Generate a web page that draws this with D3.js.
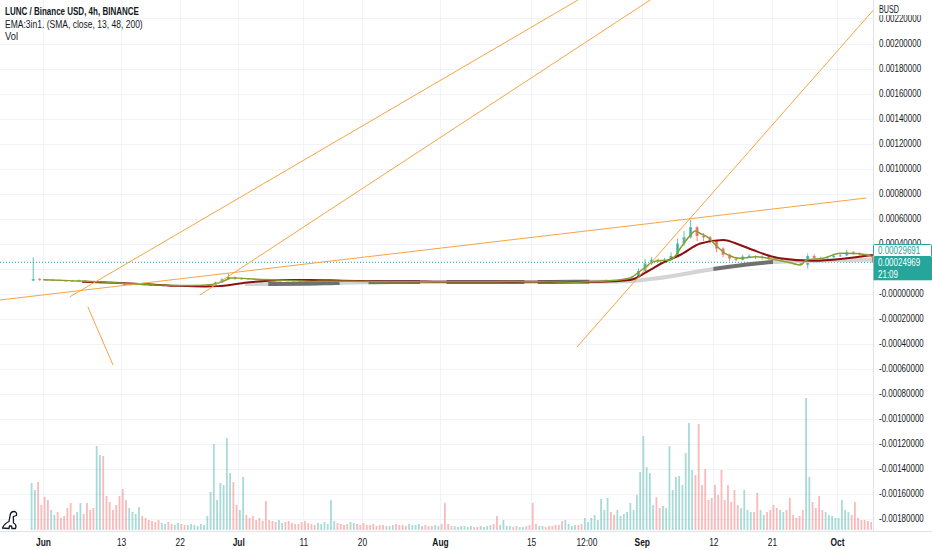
<!DOCTYPE html>
<html><head><meta charset="utf-8">
<script src="https://cdn.jsdelivr.net/npm/d3@7/dist/d3.min.js"></script>
<style>
html,body{margin:0;padding:0;background:#fff;}
svg{display:block;font-family:"Liberation Sans","DejaVu Sans",Arial,sans-serif;}
</style></head><body>
<svg id="c" width="932" height="550"></svg>
<script>
// ---------------- DATA ----------------
// Daily candles, first = 2022-05-30, prices in units of 1e-5 BUSD; open = previous close
const firstCandleDate = "2022-05-30";
const firstOpenE5 = 10.4;
const closeE5 = [11.5,11.2,
 10.8,10.9,10.4,10.3,10.0,10.4,9.6,9.3,9.4,9.0, 8.5,7.9,7.1,7.4,7.5,6.9,6.8,6.3,6.6,6.4, 6.5,6.1,6.3,6.6,6.7,7.1,8.8,11.2,13.2,11.8,
 12.1,11.6,11.2,10.9,10.6,10.4,10.5,10.4,10.2,9.9, 9.6,9.4,9.5,9.7,9.9,9.8,9.6,9.9,9.8,9.6, 9.5,9.4,9.3,9.4,9.2,9.1,9.4,9.6,9.5,9.4,9.5,
 9.3,9.2,9.3,9.4,9.5,9.4,9.5,9.7,9.4,9.6, 9.7,9.6,9.7,9.5,9.3,9.4,9.3,9.2,8.9,9.0, 9.2,9.1,9.3,9.6,10.2,10.6,10.4,10.9,11.5,13.0,18.0,
 24,27,26.5,27,30,40,45,53,46,45, 42,36,31,28,27,29.5,30,29,29.5,28, 26.5,27.5,26,24.5,23,30,28.5,28,29,30,
 30.5,33,32,31.5,30,25];
const highE5 = [29,12.5,
 11.6,11.3,11.2,10.8,10.9,11.2,10.6,9.9,10.3,9.7, 9.3,8.7,8.1,7.6,7.9,7.6,7.1,6.9,6.8,6.8, 6.9,6.6,6.5,6.8,6.9,7.4,9.5,12.5,16.4,13.8,
 12.8,12.4,11.9,11.6,11.8,10.9,10.8,10.9,10.6,10.3, 10.0,9.8,9.8,10.0,10.6,10.2,10.0,10.3,10.1,10.0, 9.8,9.7,9.6,9.6,9.5,9.3,9.6,9.8,9.8,9.7,9.7,
 9.9,9.5,9.5,9.6,9.7,9.6,9.7,10.0,9.9,9.9, 9.9,9.8,9.9,9.8,9.8,9.6,9.5,9.4,9.3,9.2, 9.4,9.3,9.6,9.9,10.6,11.2,10.9,11.3,12.0,13.8,20.0,
 27.5,29,28,28.5,33,44,50,59,54,48.5, 46,42.5,37,32,29,31,31.5,30.5,30.5,30, 28.5,28.5,28,26.5,25,32,31.5,29.5,30,31,
 31.5,35,34,33,32,30.5];
const lowE5 = [9.8,10.2,
 10.3,10.2,10.1,10.0,9.7,9.8,9.3,9.0,8.8,8.7, 8.3,7.6,6.6,6.7,6.9,6.6,6.5,6.0,6.1,6.2, 6.2,6.0,6.0,6.2,6.3,6.5,7.0,8.6,11.0,11.0,
 11.2,11.3,10.9,10.6,10.4,10.1,10.1,10.0,9.9,9.6, 9.3,9.1,9.0,9.3,9.5,9.5,9.4,9.5,9.5,9.4, 9.2,9.2,9.1,9.2,8.9,8.8,9.0,9.3,9.3,9.2,9.3,
 9.0,8.9,9.1,9.2,9.3,9.3,9.3,9.4,9.2,9.2, 9.4,9.4,9.5,9.3,9.0,9.2,9.1,9.0,8.6,8.7, 8.9,8.8,9.0,9.2,9.5,10.0,10.0,10.3,10.7,11.3,12.8,
 17.5,23,25,25.5,26.5,29.5,38,44,42,42, 40,33,29,26,25.5,26.5,28.5,27.5,27,27, 25.5,26,25.5,24,22.5,20,27.5,26.5,27.5,28.5,
 29.5,30,31,30.5,29.5,24.5];

// Volume, half-day bins starting 2022-05-30 00:00 (AM, PM per day)
const volume = [47,40, 48,25,
 33,30, 20,15, 18,12, 14,22, 27,15, 18,27, 16,27, 20,22, 84,75, 74,34,
 28,20, 25,34, 41,30, 22,18, 16,23, 14,12, 10,9, 8,10, 7,6, 8,6,
 5,7, 6,5, 5,6, 5,4, 6,5, 14,38, 86,30, 47,45, 92,57, 48,25,
 20,53, 15,12, 14,10, 12,9, 29,10, 9,8, 10,7, 8,9, 7,6, 6,8,
 9,7, 6,5, 7,6, 8,6, 30,9, 7,6, 5,6, 8,7, 6,5, 7,5,
 5,6, 4,5, 5,4, 4,5, 6,5, 5,4, 6,5, 5,6, 4,5, 4,4, 5,4,
 6,27, 6,4, 4,3, 4,4, 3,4, 3,3, 4,3, 4,5, 6,14, 5,10,
 4,4, 3,4, 3,3, 4,5, 27,6, 4,4, 3,4, 4,5, 5,9, 10,6,
 4,5, 5,6, 12,8, 12,15, 10,31, 20,32, 18,15, 20,14, 16,18, 27,20, 35,58,
 94,63, 57,25, 33,22, 24,22, 84,40, 53,54, 45,77, 107,60, 55,106, 45,61,
 30,32, 45,35, 60,30, 45,28, 40,25, 22,40, 20,18, 18,37, 20,15, 18,20,
 25,22, 20,18, 20,32, 15,12, 14,20, 132,53, 28,22, 34,20, 18,15, 14,12,
 12,30, 20,18, 15,28, 12,10, 10,9, 8];

// Moving averages: day offsets from 2022-06-01, values in 1e-5 BUSD
const ema13Day = [0,4,9,13,18,23,26,28,28.7,30,33,37,42,47,53,59,66,72,78,82,85,88,90.2,91.5,92.8,93.8,95.3,96.3,97.3,97.9,98.9,99.6,100.2,101,102,103.5,105,107.2,109.6,112.2,114.8,116.4,117.3,119.9,122.5,125,127.4];
const ema13E5  = [11.0,10.3,9.3,7.8,6.7,6.4,7.3,10.5,12.4,12.3,11.4,10.6,9.7,9.8,9.4,9.5,9.4,9.6,9.3,9.1,9.7,10.6,12.4,17,22,25.5,26.5,26.8,31,36,43,47.5,50,48,45.5,38,31.5,28.2,29.4,27.4,24.6,22.8,26.8,28.2,32.2,32,29.7];
const ema48Day = [6,11,16,21,25,27,29,31,34,37,41,46,53,60,70,80,85.6,90.2,92.8,95,97.9,101,104.5,107.1,109.1,111.2,113.2,118.3,123.5,127.5];
const ema48E5  = [9.4,8.6,7.4,6.1,5.7,5.9,7.0,8.6,10.0,10.9,10.9,10.3,9.7,9.5,9.4,9.3,9.4,10.8,17.4,24,30.8,40,42.8,38.8,34.8,30.8,28.2,26.2,28.2,30.8];
const ema200Day = [31,35,40,45,50,55,62,70,78,85.6,90.2,94,99.4,103,107.6,112.2,116.3,120,124,127.4];
const ema200E5  = [7.6,7.6,7.7,8.4,9.0,9.2,9.3,9.3,9.3,9.4,9.9,12.0,16.4,19.6,22.8,25.2,25.8,26.3,26.8,27.2];
// colour segments of the 200 line: [fromDay, toDay, shade]
const ema200Shade = [[31,34.6,"light"],[34.6,45.6,"dark"],[45.6,50,"light"],[50,58,"dark"],[58,62,"light"],[62,74,"dark"],[74,76,"light"],[76,84,"dark"],[84,103,"light"],[103,112.2,"dark"],[112.2,127.4,"light"]];

// Drawn trend lines: [[day, priceE5], [day, priceE5]]
const trendLines = [
 [[-6.6,-5.2],[126.5,76.4]],
 [[4.15,-2.56],[82.2,234.8]],
 [[24.1,-1.2],[93.3,234.8]],
 [[82.05,-42.8],[127.6,226.8]],
 [[6.9,-10.8],[10.76,-57.2]]
];

const lastPrice = 0.00024969;
const maLastValue = 0.00029691;
const countdown = "21:09";

const priceTicks = [0.0022,0.0020,0.0018,0.0016,0.0014,0.0012,0.0010,0.0008,0.0006,0.0004,0.0002,0,-0.0002,-0.0004,-0.0006,-0.0008,-0.0010,-0.0012,-0.0014,-0.0016,-0.0018];
const priceLabels = ["0.00220000","0.00200000","0.00180000","0.00160000","0.00140000","0.00120000","0.00100000","0.00080000","0.00060000","0.00040000","0.00020000","-0.00000000","-0.00020000","-0.00040000","-0.00060000","-0.00080000","-0.00100000","-0.00120000","-0.00140000","-0.00160000","-0.00180000"];
const timeTicks = ["2022-06-01T00:00Z","2022-06-13T00:00Z","2022-06-22T00:00Z","2022-07-01T00:00Z","2022-07-11T00:00Z","2022-07-20T00:00Z","2022-08-01T00:00Z","2022-08-15T00:00Z","2022-08-23T12:00Z","2022-09-01T00:00Z","2022-09-12T00:00Z","2022-09-21T00:00Z","2022-10-01T00:00Z"];
const timeLabels = ["Jun","13","22","Jul","11","20","Aug","15","12:00","Sep","12","21","Oct"];
const timeBold = [1,0,0,1,0,0,1,0,0,1,0,0,1];

const legendLines = ["LUNC / Binance USD, 4h, BINANCE","EMA:3in1. (SMA, close, 13, 48, 200)","Vol"];

// ---------------- CHART ----------------
const W = 932, H = 550, plotR = 873, plotB = 531;
const FONT = '"Liberation Sans","DejaVu Sans",Arial,sans-serif';
const E5 = 1e-5, DAY = 864e5;
const svg = d3.select("#c");
const jun1 = Date.UTC(2022,5,1);
const c0 = +d3.isoParse(firstCandleDate + "T00:00Z");
const dayDate = d => new Date(jun1 + d*DAY);

const x = d3.scaleUtc().domain([new Date(jun1), new Date(Date.UTC(2022,9,1))]).range([43, 837]);
const y = d3.scaleLinear().domain([0, 0.002]).range([293.5, 43.5]);
const yV = d3.scaleLinear().domain([0, 140]).range([530, 390]);

// text placed at (px,py) and horizontally condensed by factor sx
function condText(sel, px, py, sx){
  return sel.attr("x",0).attr("y",0).attr("transform",`translate(${px},${py}) scale(${sx},1)`);
}

svg.append("rect").attr("width",W).attr("height",H).attr("fill","#fff");
const defs = svg.append("defs");
defs.append("clipPath").attr("id","plot").append("rect").attr("x",0).attr("y",0).attr("width",plotR).attr("height",plotB);

// grid
const grid = svg.append("g");
grid.selectAll("line.h").data(priceTicks).join("line")
  .attr("x1",0).attr("x2",plotR).attr("y1",d=>Math.round(y(d))+0.5).attr("y2",d=>Math.round(y(d))+0.5)
  .attr("stroke","#f0f3fa").attr("stroke-width",1);
grid.selectAll("line.v").data(timeTicks).join("line")
  .attr("x1",d=>Math.round(x(d3.isoParse(d)))+0.5).attr("x2",d=>Math.round(x(d3.isoParse(d)))+0.5)
  .attr("y1",0).attr("y2",plotB).attr("stroke","#f0f3fa").attr("stroke-width",1);

const plot = svg.append("g").attr("clip-path","url(#plot)");

// candles
const candles = closeE5.map((c,i)=>({
  t: new Date(c0 + (i+0.5)*DAY),
  o: (i===0?firstOpenE5:closeE5[i-1])*E5, c: c*E5, h: highE5[i]*E5, l: lowE5[i]*E5
}));
const upC = "#26a69a", dnC = "#ef5350";

// volume
const vols = volume.map((v,k)=>({t:new Date(c0 + (k*12+6)*3600e3), v, up: candles[Math.floor(k/2)].c >= candles[Math.floor(k/2)].o}));
plot.append("g").selectAll("rect").data(vols).join("rect")
  .attr("x",d=>x(d.t)-0.9).attr("width",1.8)
  .attr("y",d=>yV(d.v)).attr("height",d=>yV(0)-yV(d.v))
  .attr("fill",d=>d.up?upC:dnC).attr("fill-opacity",0.4);

// current price dotted line
plot.append("line").attr("x1",0).attr("x2",plotR)
  .attr("y1",y(lastPrice)).attr("y2",y(lastPrice))
  .attr("stroke","#26a69a").attr("stroke-width",1).attr("stroke-dasharray","1,2");

// candles
const cg = plot.append("g");
cg.selectAll("line").data(candles).join("line")
  .attr("x1",d=>x(d.t)).attr("x2",d=>x(d.t)).attr("y1",d=>y(d.h)).attr("y2",d=>y(d.l))
  .attr("stroke",d=>d.c>=d.o?upC:dnC).attr("stroke-opacity",0.7).attr("stroke-width",1);
cg.selectAll("rect").data(candles).join("rect")
  .attr("x",d=>x(d.t)-1.5).attr("width",3)
  .attr("y",d=>y(Math.max(d.o,d.c))).attr("height",d=>Math.max(1,Math.abs(y(d.o)-y(d.c))))
  .attr("fill",d=>d.c>=d.o?upC:dnC).attr("fill-opacity",0.7);

// moving averages
const lineGen = d3.line().x(d=>x(dayDate(d[0]))).y(d=>y(d[1]*E5)).curve(d3.curveMonotoneX);
const e200 = ema200Day.map((d,i)=>[d,ema200E5[i]]);
ema200Shade.forEach((s,i)=>{
  const id = "s200_"+i;
  defs.append("clipPath").attr("id",id).append("rect")
    .attr("x",x(dayDate(s[0]))).attr("width",x(dayDate(s[1]))-x(dayDate(s[0])))
    .attr("y",0).attr("height",plotB);
  plot.append("g").attr("clip-path",`url(#${id})`).append("path").attr("d",lineGen(e200))
    .attr("fill","none").attr("stroke",s[2]==="dark"?"#707070":"#d4d4d4").attr("stroke-width",4).attr("stroke-linecap","butt");
});
plot.append("path").attr("d",lineGen(ema48Day.map((d,i)=>[d,ema48E5[i]])))
  .attr("fill","none").attr("stroke","#8e1111").attr("stroke-width",2);
plot.append("path").attr("d",lineGen(ema13Day.map((d,i)=>[d,ema13E5[i]])))
  .attr("fill","none").attr("stroke","#85a02a").attr("stroke-width",1.5);

// trend lines
plot.append("g").selectAll("line").data(trendLines).join("line")
  .attr("x1",d=>x(dayDate(d[0][0]))).attr("y1",d=>y(d[0][1]*E5))
  .attr("x2",d=>x(dayDate(d[1][0]))).attr("y2",d=>y(d[1][1]*E5))
  .attr("stroke","#f7a443").attr("stroke-width",1);

// borders
svg.append("rect").attr("x",plotR).attr("y",0).attr("width",W-plotR).attr("height",H).attr("fill","#fff");
svg.append("rect").attr("x",0).attr("y",plotB).attr("width",W).attr("height",H-plotB).attr("fill","#fff");
svg.append("line").attr("x1",plotR+0.5).attr("x2",plotR+0.5).attr("y1",0).attr("y2",plotB).attr("stroke","#e0e3eb");
svg.append("line").attr("x1",0).attr("x2",W).attr("y1",plotB+0.5).attr("y2",plotB+0.5).attr("stroke","#e0e3eb");

// price axis
const ya = svg.append("g").attr("transform",`translate(${plotR},0)`)
  .call(d3.axisRight(y).tickValues(priceTicks).tickFormat((d,i)=>priceLabels[i]).tickSize(0).tickPadding(6));
ya.attr("font-family",FONT).attr("font-size",10.5);
ya.select(".domain").remove();
ya.selectAll("text").attr("fill","#131722").attr("x",0).attr("transform","translate(6,0) scale(0.76,1)");

// BUSD label
svg.append("rect").attr("x",plotR+1).attr("y",0).attr("width",W-plotR-1).attr("height",15).attr("fill","#fff");
condText(svg.append("text").attr("font-size",10).attr("fill","#131722").text("BUSD"), 879, 13, 0.72);

// price labels on axis
const yl = y(lastPrice);
const b2top = yl - 5.5, b1top = b2top - 12.3;
svg.append("rect").attr("x",plotR+0.5).attr("y",b1top).attr("width",W-plotR-1).attr("height",12).attr("fill","#fff").attr("stroke","#26a69a").attr("rx",1);
condText(svg.append("text").attr("font-size",10).attr("fill","#26a69a").text(d3.format(".8f")(maLastValue)), 878, b1top+9.3, 0.8);
svg.append("rect").attr("x",plotR+0.5).attr("y",b2top).attr("width",W-plotR-0.5).attr("height",23.5).attr("fill","#26a69a");
condText(svg.append("text").attr("font-size",10).attr("fill","#fff").text(d3.format(".8f")(lastPrice)), 878, b2top+9.5, 0.8);
condText(svg.append("text").attr("font-size",10).attr("fill","#fff").text(countdown), 878, b2top+21, 0.8);

// time axis
const xa = svg.append("g").attr("transform",`translate(0,${plotB})`)
  .call(d3.axisBottom(x).tickValues(timeTicks.map(d=>d3.isoParse(d))).tickFormat((d,i)=>timeLabels[i]).tickSize(0).tickPadding(8));
xa.attr("font-family",FONT).attr("font-size",10.5);
xa.select(".domain").remove();
xa.selectAll("text").attr("fill","#131722")
  .attr("font-weight",(d,i)=>timeBold[i]?"bold":"normal")
  .attr("transform","scale(0.8,1)");

// legend
const lg = svg.append("g").attr("fill","#131722").attr("font-size",10.5);
const lgY = [15,27.5,40], lgW = [134,138,13];
legendLines.forEach((t,i)=>{
  const tx = lg.append("text").attr("font-weight",i===0?"bold":"normal").text(t);
  const nat = tx.node().getComputedTextLength();
  condText(tx, 5, lgY[i], lgW[i]/nat);
});

// logo
svg.append("path")
  .attr("d","M2.5,528 C4,524.5 6.5,522.5 9,521.5 L10,516 C10.3,513 12,511.5 14,511.5 C16,511.5 17.3,513.5 16.3,515.5 L13.3,516.5 L13.5,523 C15.5,524 16.5,526 15.5,528.5 L12,528.5 L11.5,526 L9.5,526 L9,528.5 Z")
  .attr("fill","#fff").attr("stroke","#131722").attr("stroke-width",1.3).attr("stroke-linejoin","round");
</script>
</body></html>
